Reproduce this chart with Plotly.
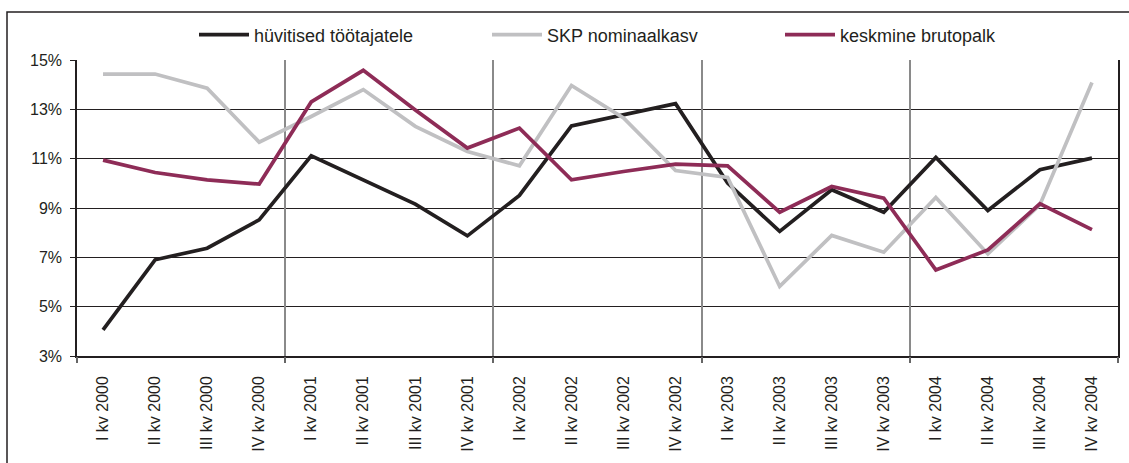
import plotly.graph_objects as go

categories = [
    "I kv 2000", "II kv 2000", "III kv 2000", "IV kv 2000",
    "I kv 2001", "II kv 2001", "III kv 2001", "IV kv 2001",
    "I kv 2002", "II kv 2002", "III kv 2002", "IV kv 2002",
    "I kv 2003", "II kv 2003", "III kv 2003", "IV kv 2003",
    "I kv 2004", "II kv 2004", "III kv 2004", "IV kv 2004",
]
huvitised = [4.06, 6.90, 7.37, 8.52, 11.12, 10.15, 9.16, 7.87, 9.51, 12.33,
             12.78, 13.23, 10.01, 8.05, 9.74, 8.83, 11.05, 8.90, 10.55, 11.02]
skp = [14.43, 14.43, 13.86, 11.67, 12.71, 13.80, 12.31, 11.29, 10.71, 13.97,
       12.65, 10.52, 10.24, 5.82, 7.89, 7.21, 9.43, 7.14, 9.13, 14.09]
brutopalk = [10.94, 10.44, 10.14, 9.97, 13.30, 14.58, 12.97, 11.43, 12.24, 10.14,
             10.48, 10.78, 10.71, 8.83, 9.87, 9.40, 6.49, 7.30, 9.17, 8.12]
series_names = ["hüvitised töötajatele", "SKP nominaalkasv", "keskmine brutopalk"]
y_ticks = [3, 5, 7, 9, 11, 13, 15]
quarters_per_year = 4

x = list(range(len(categories)))
boundaries = [i - 0.5 for i in range(0, len(categories) + 1, quarters_per_year)]

FONT = "Liberation Sans, Arial, sans-serif"
DARK = "#231f20"
L, R, T, B = 77, 11, 60, 107
PW, PH = 1129 - L - R, 463 - T - B

fig = go.Figure()
for name, vals, col in [
    (series_names[0], huvitised, DARK),
    (series_names[1], skp, "#c0c0c2"),
    (series_names[2], brutopalk, "#8e2c57"),
]:
    fig.add_trace(go.Scatter(x=x, y=vals, mode="lines", name=name,
                             line=dict(color=col, width=3.7), xaxis="x", yaxis="y"))

# invisible helper trace so the year-boundary axis is drawn
fig.add_trace(go.Scatter(x=[boundaries[0]], y=[y_ticks[0]], xaxis="x2", yaxis="y",
                         mode="markers", marker=dict(opacity=0), showlegend=False,
                         hoverinfo="skip"))

fig.update_layout(
    width=1129, height=463,
    margin=dict(l=L, r=R, t=T, b=B, autoexpand=False),
    paper_bgcolor="white", plot_bgcolor="white",
    font=dict(family=FONT, color=DARK, size=16),
    showlegend=True,
    legend=dict(orientation="h", x=(194 - L) / PW, xanchor="left", y=1 + 25 / PH,
                yanchor="middle",
                font=dict(size=18, family=FONT, color=DARK),
                itemwidth=50, entrywidth=228, bgcolor="rgba(0,0,0,0)"),
    xaxis=dict(range=[boundaries[0], boundaries[-1]], tickmode="array", tickvals=x,
               ticktext=categories, tickangle=-90, ticks="", showgrid=False,
               showline=True, linecolor=DARK, linewidth=1.5, mirror=False,
               tickfont=dict(size=16, family=FONT, color=DARK),
               ticklabelstandoff=12, zeroline=False, automargin=False),
    xaxis2=dict(range=[boundaries[0], boundaries[-1]], overlaying="x", anchor="y",
                side="bottom", tickmode="array", tickvals=boundaries,
                showticklabels=False, ticks="outside", ticklen=6, tickcolor="#666",
                tickwidth=1.5, showgrid=True, gridcolor="#8a8a8a", gridwidth=1.5,
                zeroline=False, showline=False, automargin=False),
    yaxis=dict(range=[y_ticks[0], y_ticks[-1]], tickmode="array", tickvals=y_ticks,
               ticktext=[f"{v}%" for v in y_ticks], ticks="outside", ticklen=5,
               tickcolor=DARK, showgrid=True, gridcolor=DARK, gridwidth=1,
               showline=True, linecolor=DARK, linewidth=1.5, mirror=True,
               zeroline=False, ticklabelstandoff=5, automargin=False,
               tickfont=dict(size=16, family=FONT, color=DARK)),
    shapes=[dict(type="rect", xref="paper", yref="paper",
                 x0=(7 - L) / PW, x1=(1140 - L) / PW,
                 y0=(T + PH - 480) / PH, y1=(T + PH - 12) / PH,
                 line=dict(color=DARK, width=1.5), fillcolor="rgba(0,0,0,0)",
                 layer="below")],
)

fig.write_html("out.html", config={"displayModeBar": False},
               post_script="document.body.style.margin='0';document.body.style.overflow='hidden';")
